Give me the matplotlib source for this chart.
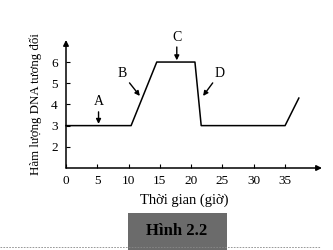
import matplotlib
matplotlib.use("Agg")
import matplotlib.pyplot as plt
from matplotlib.patches import Rectangle
from matplotlib.lines import Line2D

# DNA content over time
time_h = [0, 10.4, 14.5, 20.6, 21.6, 35, 37.2]
dna = [3, 3, 6, 6, 3, 3, 4.3]

x_ticks = [0, 5, 10, 15, 20, 25, 30, 35]
y_ticks = [2, 3, 4, 5, 6]

# arrow labels: (text, label x, label y, tip x, tip y)
marks = [("A", 5.2, 4.12, 5.2, 3.08),
         ("B", 8.9, 5.48, 11.8, 4.4),
         ("C", 17.7, 7.18, 17.7, 6.08),
         ("D", 24.6, 5.48, 21.9, 4.4)]

plt.rcParams['font.family'] = ['Liberation Serif', 'DejaVu Serif']

fig = plt.figure(figsize=(3.33, 2.5), dpi=100)
ax = fig.add_axes([66/333, (250-168)/250, (322-66)/333, (168-40)/250])
ax.set_xlim(0, 40.9)
ax.set_ylim(1.0, 7.04)
for s in ax.spines.values():
    s.set_visible(False)

# axes with arrow heads
ax.annotate("", xy=(40.9, 1.0), xytext=(0, 1.0),
            arrowprops=dict(arrowstyle="-|>", color="black", lw=1.1,
                            mutation_scale=8, shrinkA=0, shrinkB=0),
            annotation_clip=False)
ax.annotate("", xy=(0, 7.04), xytext=(0, 1.0),
            arrowprops=dict(arrowstyle="-|>", color="black", lw=1.1,
                            mutation_scale=8, shrinkA=0, shrinkB=0),
            annotation_clip=False)

ax.plot(time_h, dna, color="black", lw=1.1, clip_on=False)

for t, lx, ly, tx, ty in marks:
    ax.annotate(t, xy=(tx, ty), xytext=(lx, ly), ha="center", va="center",
                fontsize=10,
                arrowprops=dict(arrowstyle="-|>", color="black", lw=1.0,
                                mutation_scale=7, shrinkA=0.5, shrinkB=0))

ax.set_xticks(x_ticks)
ax.set_yticks(y_ticks)
ax.tick_params(direction="in", length=3, width=0.8, labelsize=9.5, pad=5)
ax.tick_params(axis="y", pad=6)
ax.set_xlabel("Thời gian (giờ)", fontsize=10.5, labelpad=2)
ax.xaxis.set_label_coords((184 - 66) / (322 - 66), -0.2)
ax.set_ylabel("Hàm lượng DNA tương đối", fontsize=9.3, labelpad=6)
ax.yaxis.set_label_coords(-(66 - 42) / (322 - 66), (168 - 104) / (168 - 40))

# caption box
fig.patches.append(Rectangle((128/333, 0), 99/333, 37/250, transform=fig.transFigure,
                             facecolor="#6b6b6b", edgecolor="none"))
fig.text(177/333, 19/250, "Hình 2.2", ha="center", va="center",
         fontsize=12, fontweight="bold", color="black")
fig.lines.append(Line2D([0, 320/333], [3/250, 3/250], transform=fig.transFigure,
                        color="#888888", lw=0.6, ls=(0, (2, 1.5))))

fig.savefig("out.png", dpi=100)
